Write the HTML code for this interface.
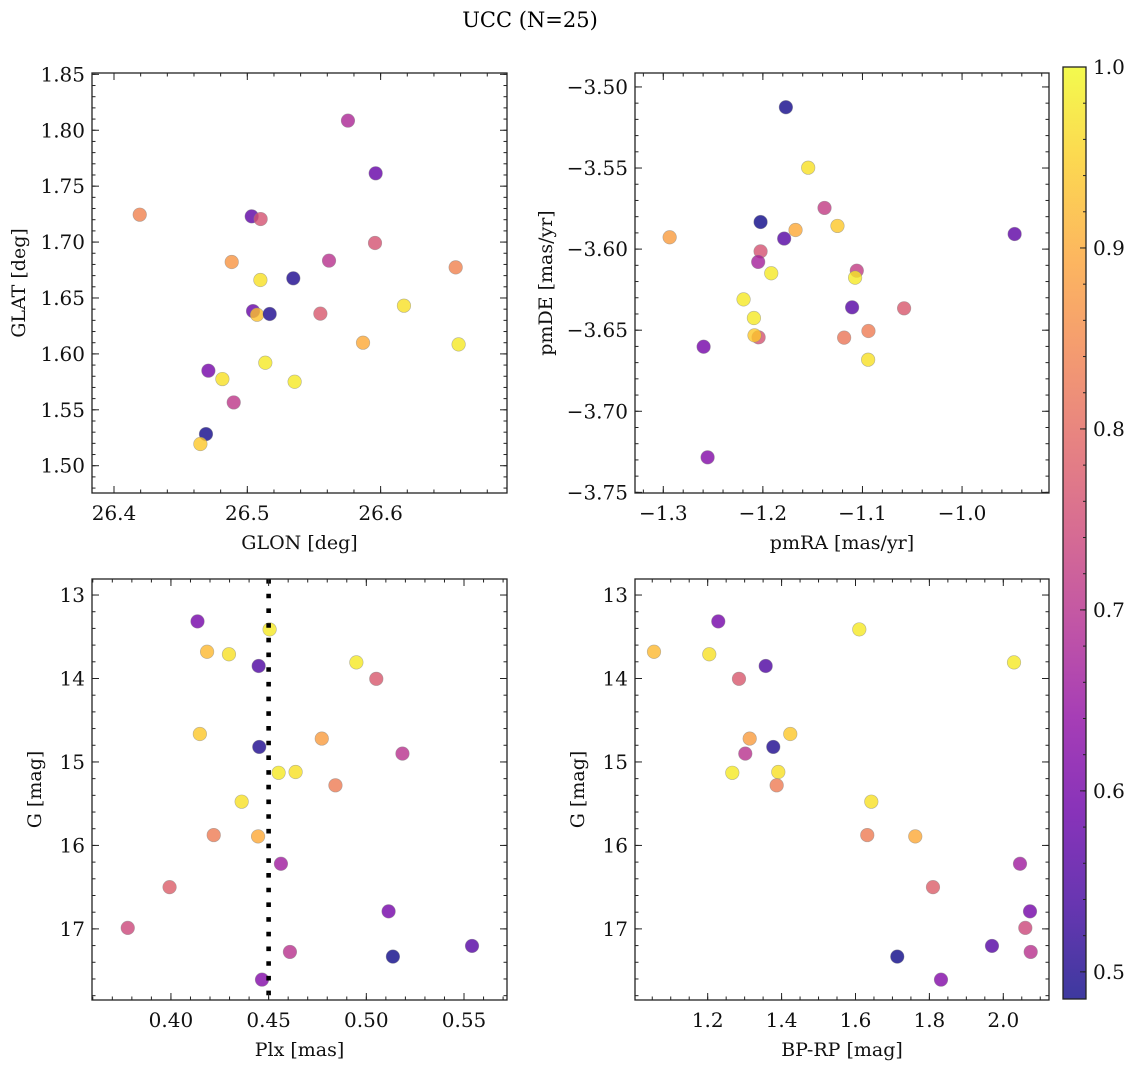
<!DOCTYPE html>
<html><head><meta charset="utf-8"><style>
html,body{margin:0;padding:0;background:#fff;}
svg{display:block;font-family:"DejaVu Serif","Liberation Serif",serif;}
</style></head><body>
<svg id="fig" width="1136" height="1067" viewBox="0 0 1136 1067" xmlns="http://www.w3.org/2000/svg">
<defs>
<linearGradient id="plasma" x1="0" y1="1" x2="0" y2="0">
<stop offset="0" stop-color="#0d0887"/><stop offset="0.1" stop-color="#41049d"/><stop offset="0.2" stop-color="#6a00a8"/><stop offset="0.3" stop-color="#8f0da4"/><stop offset="0.4" stop-color="#b12a90"/><stop offset="0.5" stop-color="#cc4778"/><stop offset="0.6" stop-color="#e16462"/><stop offset="0.7" stop-color="#f2844b"/><stop offset="0.8" stop-color="#fca636"/><stop offset="0.9" stop-color="#fcce25"/><stop offset="1" stop-color="#f0f921"/>
</linearGradient>
</defs>
<text x="530" y="27" font-size="21" text-anchor="middle">UCC (N=25)</text>
</svg>
<script>
// ---- data ----
const glon=[26.4193,26.5755,26.5963,26.5033,26.5100,26.4883,26.5098,26.5345,26.5613,26.5958,26.6563,26.5043,26.5073,26.5168,26.5548,26.6175,26.6585,26.5868,26.5135,26.4708,26.4813,26.5355,26.4898,26.4690,26.4648];
const glat=[1.7245,1.8086,1.7615,1.7230,1.7206,1.6822,1.6661,1.6676,1.6834,1.6992,1.6774,1.6383,1.6350,1.6357,1.6360,1.6431,1.6085,1.6100,1.5921,1.5850,1.5775,1.5751,1.5566,1.5283,1.5194];
const probSky=[0.84,0.68,0.58,0.57,0.76,0.87,0.97,0.50,0.70,0.76,0.84,0.58,0.93,0.50,0.77,0.97,0.98,0.90,0.98,0.60,0.97,0.98,0.71,0.49,0.94];
const pmra=[-1.1769,-1.1545,-1.1381,-1.2023,-1.1672,-1.1251,-1.2936,-1.1786,-0.9472,-1.2023,-1.2047,-1.1916,-1.1057,-1.1074,-1.2194,-1.2090,-1.1104,-1.0582,-1.2043,-1.2084,-1.0940,-1.1184,-1.0943,-1.2595,-1.2555];
const pmde=[-3.5125,-3.5498,-3.5746,-3.5833,-3.5882,-3.5857,-3.5927,-3.5935,-3.5907,-3.6014,-3.6079,-3.6149,-3.6133,-3.6176,-3.6310,-3.6425,-3.6359,-3.6365,-3.6544,-3.6532,-3.6505,-3.6546,-3.6682,-3.6602,-3.7284];
const probPM=[0.49,0.97,0.72,0.48,0.90,0.94,0.88,0.56,0.57,0.76,0.67,0.98,0.72,0.98,0.98,0.98,0.56,0.77,0.76,0.94,0.83,0.82,0.97,0.60,0.62];
const plx=[0.4136,0.4505,0.4185,0.4297,0.4449,0.4949,0.5051,0.4148,0.4772,0.4452,0.5185,0.4551,0.4638,0.4842,0.4362,0.4219,0.4446,0.4563,0.3993,0.5114,0.3779,0.4609,0.5136,0.5541,0.4466];
const gmag=[13.316,13.412,13.68,13.71,13.85,13.807,14.004,14.665,14.72,14.82,14.90,15.13,15.12,15.28,15.476,15.876,15.892,16.22,16.50,16.79,16.988,17.276,17.332,17.204,17.608];
const bprp=[1.2287,1.6103,1.0547,1.2043,1.3570,2.0290,1.2847,1.4235,1.3137,1.3775,1.3018,1.2666,1.3911,1.3867,1.6428,1.6319,1.7618,2.0452,1.8097,2.0723,2.0596,2.0742,1.7131,1.9694,1.8314];
const probCMD=[0.60,0.98,0.92,0.97,0.55,0.98,0.77,0.94,0.88,0.50,0.70,0.98,0.97,0.83,0.97,0.83,0.90,0.66,0.78,0.60,0.74,0.70,0.48,0.56,0.62];
const plxLine=[0.45];
const ticksGlon=[26.4,26.5,26.6], ticksGlat=[1.50,1.55,1.60,1.65,1.70,1.75,1.80,1.85];
const ticksPmra=[-1.3,-1.2,-1.1,-1.0], ticksPmde=[-3.75,-3.70,-3.65,-3.60,-3.55,-3.50];
const ticksPlx=[0.40,0.45,0.50,0.55], ticksG=[13,14,15,16,17], ticksBprp=[1.2,1.4,1.6,1.8,2.0];
const ticksCbar=[0.5,0.6,0.7,0.8,0.9,1.0];
const cMin=0.485,cMax=1.0;

const NS="http://www.w3.org/2000/svg";
const svg=document.getElementById('fig');
const FS=20;
function mk(tag,attrs,parent){const e=document.createElementNS(NS,tag);for(const k in attrs)e.setAttribute(k,attrs[k]);(parent||svg).appendChild(e);return e;}
function lin(v,d0,d1,p0,p1){return p0+(v-d0)/(d1-d0)*(p1-p0);}
const stops=[[0x0d,0x08,0x87],[0x41,0x04,0x9d],[0x6a,0x00,0xa8],[0x8f,0x0d,0xa4],[0xb1,0x2a,0x90],[0xcc,0x47,0x78],[0xe1,0x64,0x62],[0xf2,0x84,0x4b],[0xfc,0xa6,0x36],[0xfc,0xce,0x25],[0xf0,0xf9,0x21]];
function plasma(t){t=Math.max(0,Math.min(1,t))*10;const i=Math.min(9,Math.floor(t)),f=t-i;const a=stops[i],b=stops[i+1];return 'rgb('+a.map((v,k)=>Math.round(v+(b[k]-v)*f)).join(',')+')';}
function fmt(v,dec){const s=Math.abs(v).toFixed(dec);return (v<0?'\u2212':'')+s;}

function panel(cfg){
  const g=mk('g',{});
  
  
  const [x0,y0,x1,y1]=cfg.box;
  const X=v=>lin(v,cfg.xd[0],cfg.xd[1],x0,x1);
  const Y=v=>lin(v,cfg.yd[0],cfg.yd[1],y1,y0);
  const pts=mk('g',{},g);
  
  
  for(let i=0;i<cfg.xs.length;i++){
    const c=mk('circle',{cx:X(cfg.xs[i]),cy:Y(cfg.ys[i]),r:6.8,fill:plasma((cfg.cs[i]-cMin)/(cMax-cMin)),'fill-opacity':0.8,stroke:'#888','stroke-opacity':0.6,'stroke-width':0.6},pts);
    
    
  }
  if(cfg.vline){for(const v of cfg.vline){const l=mk('line',{x1:X(v),x2:X(v),y1:y0,y2:y1,stroke:'#000','stroke-width':4.6,'stroke-dasharray':'4.6 10.1'},g);
    
    }}
  const fr=mk('rect',{x:x0,y:y0,width:x1-x0,height:y1-y0,fill:'none',stroke:'#222','stroke-width':1.3},g);
  
  
  const tk=mk('g',{stroke:'#222','stroke-width':1},g);
  for(const v of cfg.xt){const px=X(v);
    mk('line',{x1:px,x2:px,y1:y1,y2:y1-7},tk);mk('line',{x1:px,x2:px,y1:y0,y2:y0+7},tk);
    const t=mk('text',{x:px,y:y1+27,'font-size':FS,'text-anchor':'middle',fill:'#111'},g);t.textContent=fmt(v,cfg.xdec);
    
    }
  for(let k=Math.ceil(Math.min(...cfg.xd)/cfg.xm-1e-6);k*cfg.xm<=Math.max(...cfg.xd)+1e-9;k++){const px=X(k*cfg.xm);
    mk('line',{x1:px,x2:px,y1:y1,y2:y1-3.5},tk);mk('line',{x1:px,x2:px,y1:y0,y2:y0+3.5},tk);}
  for(const v of cfg.yt){const py=Y(v);
    mk('line',{x1:x0,x2:x0+7,y1:py,y2:py},tk);mk('line',{x1:x1,x2:x1-7,y1:py,y2:py},tk);
    const t=mk('text',{x:x0-7,y:py+7,'font-size':FS,'text-anchor':'end',fill:'#111'},g);t.textContent=fmt(v,cfg.ydec);
    
    }
  for(let k=Math.ceil(Math.min(...cfg.yd)/cfg.ym-1e-6);k*cfg.ym<=Math.max(...cfg.yd)+1e-9;k++){const py=Y(k*cfg.ym);
    mk('line',{x1:x0,x2:x0+3.5,y1:py,y2:py},tk);mk('line',{x1:x1,x2:x1-3.5,y1:py,y2:py},tk);}
  const xl=mk('text',{x:(x0+x1)/2,y:y1+56,'font-size':19,'text-anchor':'middle',fill:'#111'},g);xl.textContent=cfg.xlab;
  
  
  const yx=cfg.ylx,yy=(y0+y1)/2;
  const yl=mk('text',{x:yx,y:yy,'font-size':19,'text-anchor':'middle',fill:'#111',transform:'rotate(-90 '+yx+' '+yy+')'},g);yl.textContent=cfg.ylab;
  
  
}
panel({name:'sky-position-panel',box:[92,73,507,493],xd:[26.3835,26.6948],yd:[1.4756,1.8512],xs:glon,ys:glat,cs:probSky,xt:ticksGlon,yt:ticksGlat,xm:0.02,ym:0.01,xdec:1,ydec:2,xlab:'GLON [deg]',ylab:'GLAT [deg]',ylx:25});
panel({name:'proper-motion-panel',box:[635,73,1049,493],xd:[-1.3284,-0.9127],yd:[-3.7504,-3.4914],xs:pmra,ys:pmde,cs:probPM,xt:ticksPmra,yt:ticksPmde,xm:0.02,ym:0.01,xdec:1,ydec:2,xlab:'pmRA [mas/yr]',ylab:'pmDE [mas/yr]',ylx:552});
panel({name:'parallax-magnitude-panel',box:[92,579,507,1000],xd:[0.3596,0.572],yd:[17.852,12.808],xs:plx,ys:gmag,cs:probCMD,xt:ticksPlx,yt:ticksG,xm:0.01,ym:0.2,xdec:2,ydec:0,xlab:'Plx [mas]',ylab:'G [mag]',ylx:41,vline:plxLine});
panel({name:'color-magnitude-panel',box:[635,579,1049,1000],xd:[1.0033,2.1237],yd:[17.852,12.808],xs:bprp,ys:gmag,cs:probCMD,xt:ticksBprp,yt:ticksG,xm:0.05,ym:0.2,xdec:1,ydec:0,xlab:'BP-RP [mag]',ylab:'G [mag]',ylx:584});
const cb=mk('g',{});


const cx0=1063,cx1=1086,cy0=67,cy1=999;
mk('rect',{x:cx0,y:cy0,width:cx1-cx0,height:cy1-cy0,fill:'url(#plasma)','fill-opacity':0.8},cb);
mk('rect',{x:cx0,y:cy0,width:cx1-cx0,height:cy1-cy0,fill:'none',stroke:'#222','stroke-width':1.3},cb);
const CY=v=>lin(v,cMin,cMax,cy1,cy0);
for(const v of ticksCbar){const py=CY(v);
  mk('line',{x1:cx1,x2:cx1-6,y1:py,y2:py,stroke:'#222','stroke-width':1},cb);
  const t=mk('text',{x:cx1+7,y:py+7,'font-size':FS,fill:'#111'},cb);t.textContent=v.toFixed(1);
  
  }
for(let k=Math.ceil(cMin/0.02);k*0.02<=cMax+1e-9;k++){const py=CY(k*0.02);
  mk('line',{x1:cx1,x2:cx1-3,y1:py,y2:py,stroke:'#222','stroke-width':1},cb);}
</script>
</body></html>
